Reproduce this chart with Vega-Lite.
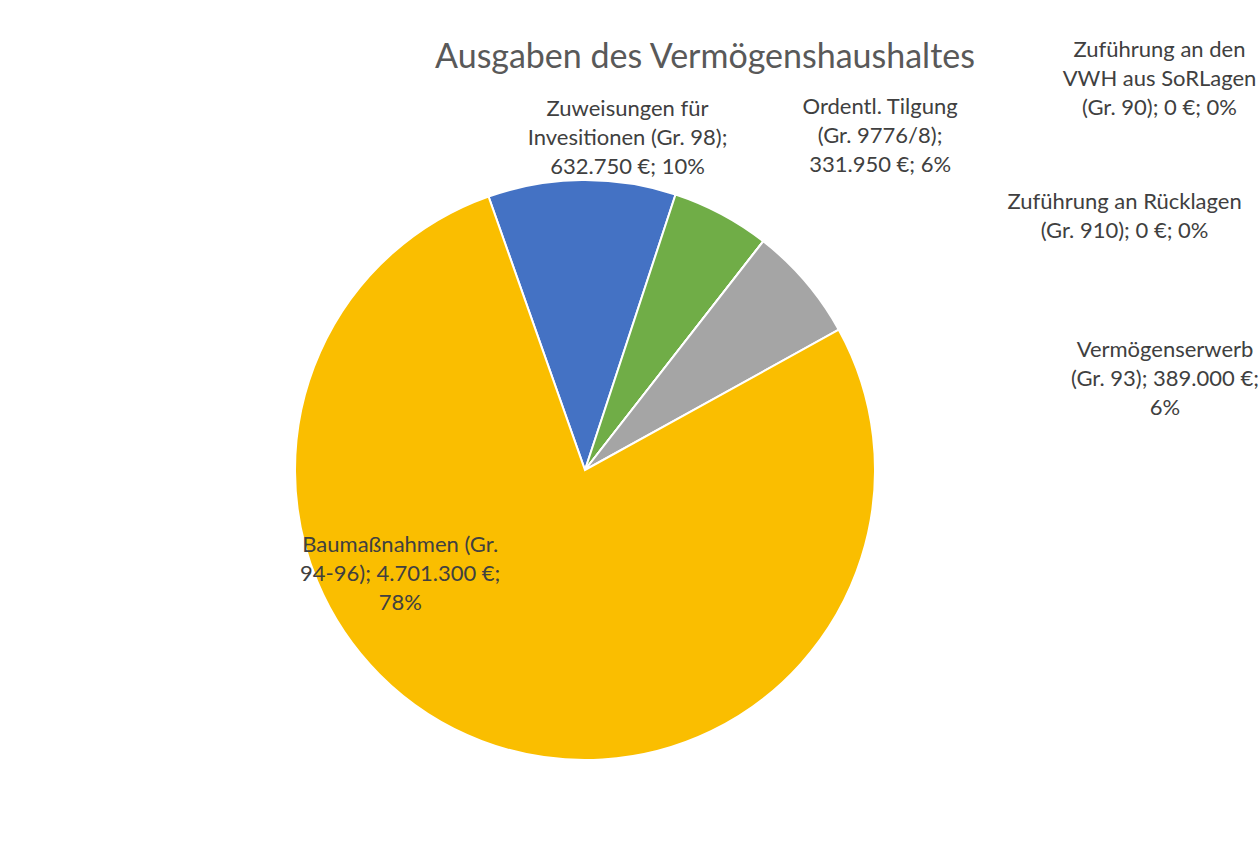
{
  "$schema": "https://vega.github.io/schema/vega-lite/v6.json",
  "autosize": {"type": "none"},
  "padding": {"left": 0, "top": 90, "right": 89, "bottom": 1},
  "width": 1170,
  "height": 760,
  "background": "white",
  "config": {"view": {"stroke": null}, "font": "Lato"},
  "title": {
    "text": "Ausgaben des Vermögenshaushaltes",
    "anchor": "middle",
    "frame": "group",
    "orient": "top",
    "baseline": "bottom",
    "dx": 120,
    "fontSize": 34,
    "font": "Lato",
    "fontWeight": "normal",
    "color": "#595959",
    "offset": -175
  },
  "data": {
    "values": [
      {"idx": 1, "category": "Zuweisungen", "value": 632750, "label": "Zuweisungen für\nInvesitionen (Gr. 98);\n632.750 €; 10%"},
      {"idx": 2, "category": "Tilgung", "value": 331950, "label": "Ordentl. Tilgung\n(Gr. 9776/8);\n331.950 €; 6%"},
      {"idx": 3, "category": "VWH", "value": 0, "label": "Zuführung an den\nVWH aus SoRLagen\n(Gr. 90); 0 €; 0%"},
      {"idx": 4, "category": "Rücklagen", "value": 0, "label": "Zuführung an Rücklagen\n(Gr. 910); 0 €; 0%"},
      {"idx": 5, "category": "Vermögenserwerb", "value": 389000, "label": "Vermögenserwerb\n(Gr. 93); 389.000 €;\n6%"},
      {"idx": 6, "category": "Baumaßnahmen", "value": 4701300, "label": "Baumaßnahmen (Gr.\n94-96); 4.701.300 €;\n78%"}
    ]
  },
  "encoding": {
    "theta": {"field": "value", "type": "quantitative", "stack": true, "scale": {"range": [-0.339, 5.944]}},
    "order": {"field": "idx", "type": "quantitative"},
    "detail": {"field": "category", "type": "nominal"}
  },
  "layer": [
    {
      "mark": {"type": "arc", "outerRadius": 290, "stroke": "white", "strokeWidth": 2},
      "encoding": {
        "color": {
          "field": "category",
          "type": "nominal",
          "scale": {
            "domain": ["Zuweisungen", "Tilgung", "VWH", "Rücklagen", "Vermögenserwerb", "Baumaßnahmen"],
            "range": ["#4472C4", "#70AD47", "#4E7A2F", "#9E480E", "#A5A5A5", "#FABE00"]
          },
          "legend": null
        }
      }
    },
    {
      "mark": {"type": "text", "radius": 322, "dx": 46, "dy": -39, "fontSize": 22, "color": "#404040", "lineBreak": "\n", "lineHeight": 29, "align": "center", "baseline": "middle"},
      "encoding": {"text": {"condition": {"test": "datum.category === 'Zuweisungen'", "field": "label"}, "value": ""}}
    },
    {
      "mark": {"type": "text", "radius": 368, "dx": 122, "dy": -38, "fontSize": 22, "color": "#404040", "lineBreak": "\n", "lineHeight": 29, "align": "center", "baseline": "middle"},
      "encoding": {"text": {"condition": {"test": "datum.category === 'Tilgung'", "field": "label"}, "value": ""}}
    },
    {
      "mark": {"type": "text", "radius": 497, "dx": 269, "dy": -28, "fontSize": 22, "color": "#404040", "lineBreak": "\n", "lineHeight": 29, "align": "center", "baseline": "middle"},
      "encoding": {"text": {"condition": {"test": "datum.category === 'VWH'", "field": "label"}, "value": ""}}
    },
    {
      "mark": {"type": "text", "radius": 323, "dx": 341, "dy": -13, "fontSize": 22, "color": "#404040", "lineBreak": "\n", "lineHeight": 29, "align": "center", "baseline": "middle"},
      "encoding": {"text": {"condition": {"test": "datum.category === 'Rücklagen'", "field": "label"}, "value": ""}}
    },
    {
      "mark": {"type": "text", "radius": 146, "dx": 469, "dy": -25, "fontSize": 22, "color": "#404040", "lineBreak": "\n", "lineHeight": 29, "align": "center", "baseline": "middle"},
      "encoding": {"text": {"condition": {"test": "datum.category === 'Vermögenserwerb'", "field": "label"}, "value": ""}}
    },
    {
      "mark": {"type": "text", "radius": 112, "dx": -145, "dy": -30, "fontSize": 22, "color": "#404040", "lineBreak": "\n", "lineHeight": 29, "align": "center", "baseline": "middle"},
      "encoding": {"text": {"condition": {"test": "datum.category === 'Baumaßnahmen'", "field": "label"}, "value": ""}}
    }
  ]
}
